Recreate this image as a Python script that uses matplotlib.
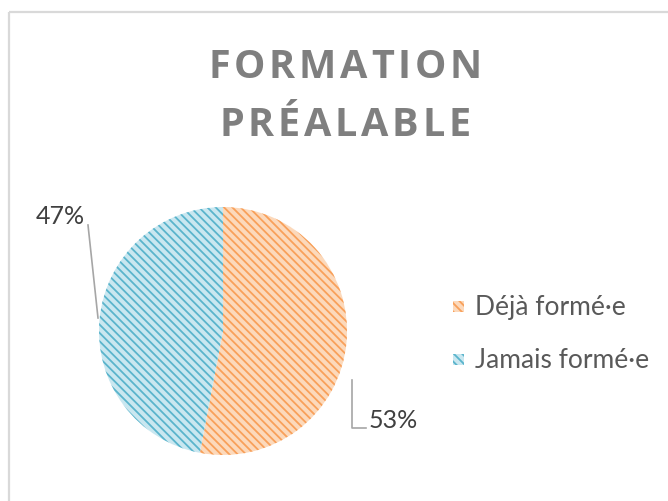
import matplotlib
matplotlib.use("Agg")
import matplotlib.pyplot as plt
from matplotlib.patches import Rectangle
from matplotlib.font_manager import FontProperties

plt.rcParams['font.family'] = ['Lato', 'DejaVu Sans']
plt.rcParams['hatch.linewidth'] = 1.3

# data
categories = ["Déjà formé·e", "Jamais formé·e"]
shares = [53, 47]
face_colors = ["#fcd9bb", "#c9e7f0"]
hatch_colors = ["#f8a05a", "#5ab4cc"]
title_lines = ["FORMATION", "PRÉALABLE"]

W, H = 668, 501
HATCH = "\\\\\\\\"
fig = plt.figure(figsize=(W / 100, H / 100), dpi=100)
ax = fig.add_axes([0, 0, 1, 1])

# chart frame (cropped on right / bottom)
ax.add_patch(Rectangle((9, 12), 700, 600, fill=False, edgecolor="#d9d9d9", lw=1.6))

# pie (y axis inverted, so counterclock=True draws clockwise on screen)
wedges, _ = ax.pie(shares, center=(223, 331), radius=124, startangle=-90,
                   counterclock=True, explode=[0.025, 0.025],
                   wedgeprops=dict(linewidth=0), frame=True)
for w, fc, hc in zip(wedges, face_colors, hatch_colors):
    w.set_facecolor(fc)
    w.set_edgecolor(hc)
    w.set_linewidth(0)
    w.set_hatch(HATCH)
ax.set_xlim(0, W)
ax.set_ylim(H, 0)
ax.set_aspect('equal')
ax.axis('off')

# title with letter spacing
renderer = fig.canvas.get_renderer()
tprop = FontProperties(family='Open Sans', weight='bold', size=28.5)


def char_widths(s):
    return [renderer.get_text_width_height_descent(c, tprop, ismath=False)[0] for c in s]


w1 = char_widths(title_lines[0])
spacing = (273 - sum(w1)) / (len(w1) - 1)
for line, base in zip(title_lines, [78, 136]):
    ws = char_widths(line)
    total = sum(ws) + spacing * (len(ws) - 1)
    x = 345 - total / 2
    for c, cw in zip(line, ws):
        ax.text(x, base, c, fontproperties=tprop, color="#7f7f7f",
                ha='left', va='baseline')
        x += cw + spacing

# data labels with leader lines
lab_color = "#404040"
ax.plot([88, 98], [225, 318], color="#a6a6a6", lw=1.2)
ax.text(60, 224, f"{shares[1]}%", fontsize=18, color=lab_color, ha='center', va='baseline')
ax.plot([352, 352, 366], [380, 428, 428], color="#a6a6a6", lw=1.2)
ax.text(369, 428, f"{shares[0]}%", fontsize=18, color=lab_color, ha='left', va='baseline')

# legend
for i, (cat, fc, hc) in enumerate(zip(categories, face_colors, hatch_colors)):
    y = 312 + i * 53
    ax.add_patch(Rectangle((453, y - 11), 11, 11, facecolor=fc, edgecolor=hc,
                           lw=0, hatch=HATCH))
    ax.text(475, y + 3, cat, fontsize=19, color="#595959", ha='left', va='baseline')

fig.savefig("out.png", dpi=100)
